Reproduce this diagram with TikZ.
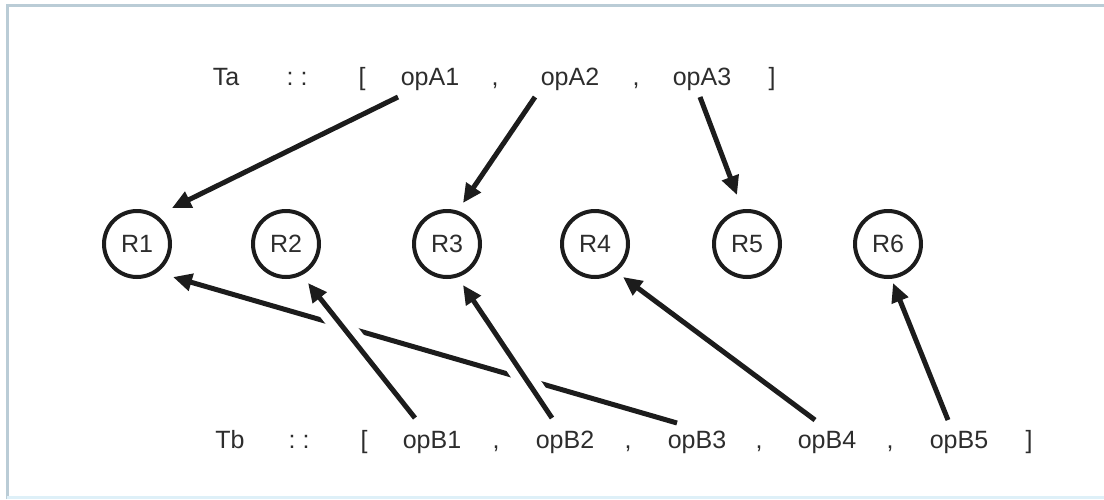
\documentclass[tikz,border=0pt]{standalone}
\usepackage{fontspec}
\setmainfont{Liberation Sans}
\usetikzlibrary{arrows.meta,calc}
\definecolor{ink}{RGB}{28,28,28}
\definecolor{txt}{RGB}{45,45,45}
\definecolor{framec}{RGB}{186,204,214}
\definecolor{framelow}{RGB}{222,240,248}
\begin{document}
\begin{tikzpicture}[x=1pt,y=-1pt,
  lbl/.style={font=\fontsize{25}{30}\selectfont, text=txt, inner sep=0pt, anchor=base},
  reg/.style={circle, draw=ink, line width=4pt, minimum size=66pt, inner sep=0pt, font=\fontsize{25}{30}\selectfont, text=txt},
  arr/.style={draw=ink, line width=5pt, -{Triangle[length=19pt,width=17pt]}},
  halo/.style={draw=white, line width=23pt, shorten <=25pt, shorten >=25pt}]
\useasboundingbox[fill=white] (0,0) rectangle (1104,499);
% frame
\draw[framec, line width=3pt] (7,499) -- (7,5) -- (1104,5);
\draw[framelow, line width=3pt] (7,497) -- (1104,497);
% top row
\node[lbl] (Ta) at (226,85) {Ta};
\node[lbl] (cA) at (297,85) {:\hspace{7pt}:};
\node[lbl] (lA) at (362,85) {[};
\node[lbl] (opA1) at (430,85) {opA1};
\node[lbl] (kA1) at (495,85) {,};
\node[lbl] (opA2) at (570,85) {opA2};
\node[lbl] (kA2) at (636,85) {,};
\node[lbl] (opA3) at (702,85) {opA3};
\node[lbl] (rA) at (772,85) {]};
% bottom row
\node[lbl] (Tb) at (230,448) {Tb};
\node[lbl] (cB) at (299,448) {:\hspace{7pt}:};
\node[lbl] (lB) at (364,448) {[};
\node[lbl] (opB1) at (432,448) {opB1};
\node[lbl] (kB1) at (496,448) {,};
\node[lbl] (opB2) at (565,448) {opB2};
\node[lbl] (kB2) at (628,448) {,};
\node[lbl] (opB3) at (697,448) {opB3};
\node[lbl] (kB3) at (759,448) {,};
\node[lbl] (opB4) at (827,448) {opB4};
\node[lbl] (kB4) at (890,448) {,};
\node[lbl] (opB5) at (959,448) {opB5};
\node[lbl] (rB) at (1029,448) {]};
% registers
\node[reg] (R1) at (137,244) {R1};
\node[reg] (R2) at (286,244) {R2};
\node[reg] (R3) at (447,244) {R3};
\node[reg] (R4) at (595,244) {R4};
\node[reg] (R5) at (747,244) {R5};
\node[reg] (R6) at (888,244) {R6};
% top arrows
\draw[arr] ($(opA1.base)+(-32,12)$) -- ($(R1)+(35,-36)$);
\draw[arr] ($(opA2.base)+(-35,12)$) -- ($(R3)+(16,-41)$);
\draw[arr] ($(opA3.base)+(-2,12)$) -- ($(R5)+(-10,-49)$);
% long arrow, interrupted by the crossing ones
\draw[arr] ($(opB3.base)+(-20,-25)$) -- ($(R1)+(36,33)$);
\draw[halo] ($(opB1.base)+(-17,-30)$) -- ($(R2)+(22,39)$);
\draw[halo] ($(opB2.base)+(-13,-30)$) -- ($(R3)+(16,41)$);
% bottom arrows
\draw[arr] ($(opB1.base)+(-17,-30)$) -- ($(R2)+(22,39)$);
\draw[arr] ($(opB2.base)+(-13,-30)$) -- ($(R3)+(16,41)$);
\draw[arr] ($(opB4.base)+(-12,-28)$) -- ($(R4)+(28,33)$);
\draw[arr] ($(opB5.base)+(-11,-28)$) -- ($(R6)+(5,39)$);
\end{tikzpicture}
\end{document}
